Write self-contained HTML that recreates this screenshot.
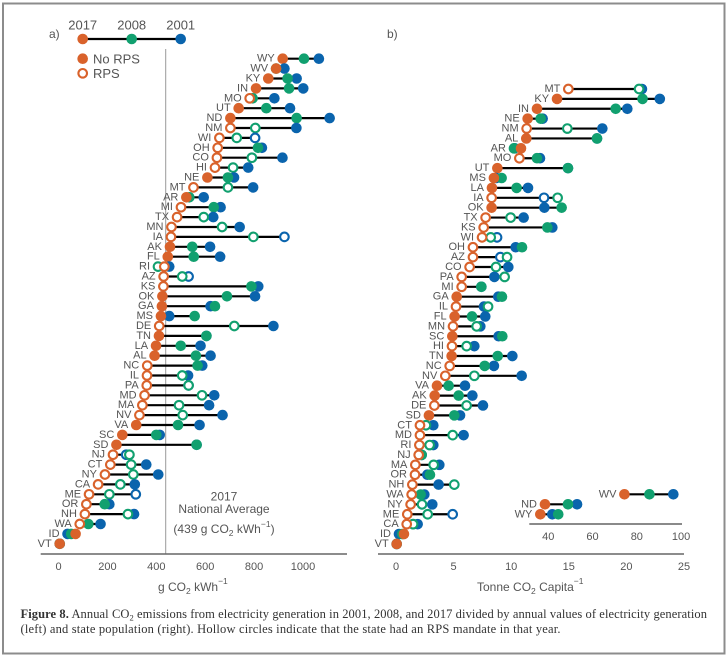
<!DOCTYPE html>
<html lang="en">
<head>
<meta charset="utf-8">
<title>Annual CO2 emissions dumbbell charts</title>
<style>
html,body{margin:0;padding:0;background:#fff;width:728px;height:656px;overflow:hidden}
svg{display:block;font-family:"Liberation Sans",sans-serif}
text{fill:#555}
.cap{font-family:"Liberation Serif",serif;font-size:12.5px;fill:#333}
</style>
</head>
<body>
<svg id="chart" width="728" height="656" viewBox="0 0 728 656" xmlns="http://www.w3.org/2000/svg">
<rect x="3" y="3.5" width="721.5" height="650" fill="#fff" stroke="#8c8c8c" stroke-width="2"/>
<text x="49" y="38" font-size="12">a)</text>
<text x="387" y="38" font-size="12">b)</text>
<g>
<text x="82.7" y="29.5" font-size="13" text-anchor="middle">2017</text>
<text x="131.7" y="29.5" font-size="13" text-anchor="middle">2008</text>
<text x="180.7" y="29.5" font-size="13" text-anchor="middle">2001</text>
<line x1="82.7" y1="39" x2="180.7" y2="39" stroke="#000" stroke-width="2.2"/>
<circle cx="82.7" cy="39" r="5.3" fill="#d9622b"/>
<circle cx="131.7" cy="39" r="5.3" fill="#11a06f"/>
<circle cx="180.7" cy="39" r="5.3" fill="#0a64ad"/>
</g>
<g>
<circle cx="82.7" cy="58.7" r="5.3" fill="#d9622b"/>
<text x="93" y="63.5" font-size="13">No RPS</text>
<circle cx="82.7" cy="73.3" r="4.3" fill="#fff" stroke="#d9622b" stroke-width="2.1"/>
<text x="93" y="78" font-size="13">RPS</text>
</g>
<line x1="165.7" y1="49" x2="165.7" y2="554" stroke="#999" stroke-width="1"/>
<g id="panelA"></g>
<g id="panelB"></g>
<g id="inset"></g>
<line x1="40.7" y1="554" x2="347" y2="554" stroke="#666" stroke-width="1.5"/>
<line x1="378" y1="554" x2="684" y2="554" stroke="#666" stroke-width="1.5"/>
<line x1="529.3" y1="524" x2="682" y2="524" stroke="#444" stroke-width="1.2"/>
<g id="ticks"></g>
<g text-anchor="middle" font-size="12">
<text x="224" y="500.5">2017</text>
<text x="224" y="513">National Average</text>
<text x="224" y="533">(439 g CO<tspan font-size="8.5" dy="3">2</tspan><tspan dy="-3"> kWh</tspan><tspan font-size="8.5" dy="-6">−1</tspan><tspan dy="6">)</tspan></text>
</g>
<text x="158" y="591" font-size="12">g CO<tspan font-size="8.5" dy="3">2</tspan><tspan dy="-3"> kWh</tspan><tspan font-size="8.5" dy="-7">−1</tspan></text>
<text x="477" y="591" font-size="12">Tonne CO<tspan font-size="8.5" dy="3">2</tspan><tspan dy="-3"> Capita</tspan><tspan font-size="8.5" dy="-7">−1</tspan></text>
<g>
<text class="cap" x="20.5" y="618" textLength="686.5" lengthAdjust="spacing"><tspan font-weight="bold">Figure 8.</tspan> Annual CO<tspan font-size="8.5" dy="2.5">2</tspan><tspan dy="-2.5"> emissions from electricity generation in 2001, 2008, and 2017 divided by annual values of electricity generation</tspan></text>
<text class="cap" x="20.5" y="633" textLength="540" lengthAdjust="spacing">(left) and state population (right). Hollow circles indicate that the state had an RPS mandate in that year.</text>
</g>
</svg>
<script>
// Panel a: g CO2 per kWh
const statesA = ["WY","WV","KY","IN","MO","UT","ND","NM","WI","OH","CO","HI","NE","MT","AR","MI","TX","MN","IA","AK","FL","RI","AZ","KS","OK","GA","MS","DE","TN","LA","AL","NC","IL","PA","MD","MA","NV","VA","SC","SD","NJ","CT","NY","CA","ME","OR","NH","WA","ID","VT"];
const a2017 = [917,890,858,808,782,737,703,703,658,651,648,640,609,552,523,501,485,462,460,456,447,433,430,429,425,423,419,412,411,399,393,363,362,361,352,343,331,318,261,237,223,212,190,162,125,114,108,87,70,5];
const a2008 = [1004,890,937,943,794,850,974,805,729,816,791,714,693,693,535,635,594,669,797,547,553,407,506,789,689,640,557,719,605,500,562,569,506,532,587,493,508,489,400,565,290,297,306,253,208,189,284,122,52,5];
const a2001 = [1065,924,974,1001,883,947,1109,973,804,832,916,776,718,796,594,663,633,741,924,620,661,453,532,817,804,622,453,879,605,581,622,588,530,532,637,616,671,577,414,565,277,359,408,312,316,208,309,172,37,5];
const aRps2017 = [0,0,0,0,1,0,0,1,1,1,1,1,0,1,0,1,1,1,1,0,0,1,1,1,0,0,0,1,0,0,0,1,1,1,1,1,1,0,0,0,1,1,1,1,1,1,1,1,0,0];
const aRps2008 = [0,0,0,0,0,0,0,1,1,0,1,1,0,1,0,0,1,1,1,0,0,1,1,0,0,0,0,1,0,0,0,0,1,1,1,1,1,0,0,0,1,1,1,1,1,0,1,0,0,0];
const aRps2001 = [0,0,0,0,0,0,0,0,1,0,0,0,0,0,0,0,0,0,1,0,0,0,1,0,0,0,0,0,0,0,0,0,0,0,0,0,0,0,0,0,1,0,0,0,1,0,0,0,0,0];
const aTicks = [0,200,400,600,800,1000];

// Panel b: tonne CO2 per capita
const statesB = ["MT","KY","IN","NE","NM","AL","AR","MO","UT","MS","LA","IA","OK","TX","KS","WI","OH","AZ","CO","PA","MI","GA","IL","FL","MN","SC","HI","TN","NC","NV","VA","AK","DE","SD","CT","MD","RI","NJ","MA","OR","NH","WA","NY","ME","CA","ID","VT"];
const b2017 = [14.96,13.98,12.24,11.43,11.34,11.31,10.85,10.71,8.8,8.5,8.33,8.3,8.3,7.78,7.61,7.47,6.68,6.68,6.39,5.7,5.7,5.27,5.21,5.09,4.95,4.89,4.86,4.83,4.66,4.28,3.56,3.36,3.33,2.86,2.08,2.08,2.03,1.97,1.68,1.65,1.42,1.36,1.27,0.98,0.93,0.69,0.06];
const b2008 = [21.1,21.4,19.07,12.56,14.87,17.45,10.24,12.24,14.93,9.17,10.47,14.03,14.38,9.95,13.14,8.22,10.94,9.64,8.68,9.43,7.41,9.2,7.99,6.6,7,9.23,6.13,8.83,7.7,6.8,4.57,5.44,6.13,5.06,2.6,4.92,2.92,2.23,3.27,2.95,5.06,2.14,2.26,2.75,1.48,0.55,0.06];
const b2001 = [21.35,22.9,20.08,12.73,17.91,17.45,10.3,12.5,14.93,8.7,11.46,12.85,12.88,11.08,13.57,8.77,10.39,9.06,9.75,8.54,7.41,8.88,7.64,7.75,7.32,8.91,6.8,10.1,8.5,10.91,5.99,6.63,7.55,5.56,3.24,5.87,3.24,2.23,3.76,2.72,3.7,2.46,3.15,4.92,1.88,0.26,0.06];
const bRps2017 = [1,0,0,0,1,0,0,1,0,0,0,1,0,1,1,1,1,1,1,1,1,0,1,0,1,0,1,0,1,1,0,0,1,0,1,1,1,1,1,1,1,1,1,1,1,0,0];
const bRps2008 = [1,0,0,0,1,0,0,0,0,0,0,1,0,1,0,1,0,1,1,1,0,0,1,0,1,0,1,0,0,1,0,0,1,0,1,1,1,0,1,0,1,0,1,1,1,0,0];
const bRps2001 = [0,0,0,0,0,0,0,0,0,0,0,1,0,0,0,1,0,1,0,0,0,0,0,0,0,0,0,0,0,0,0,0,0,0,0,0,0,0,0,0,0,0,0,1,0,0,0];
const bTicks = [0,5,10,15,20,25];

// Inset: high per-capita states
const insetStates = ["WV","ND","WY"];
const inset2017 = [74.4,38.5,36.4];
const inset2008 = [85.7,48.9,44.5];
const inset2001 = [96.5,53,41.8];
const insetTicks = [40,60,80,100];

const NS = "http://www.w3.org/2000/svg";
const COL2017 = "#d9622b", COL2008 = "#11a06f", COL2001 = "#0a64ad";

const xA = v => 58.5 + v * 0.2445;
const yA = i => 58.7 + i * 9.9;
const xB = v => 396 + v * 11.52;
const yB = i => 89 + i * 9.89;
const xI = v => 548.3 + (v - 40) * 2.213;
const yI = i => 494.3 + i * 10;

function mk(tag, parent) {
  const el = document.createElementNS(NS, tag);
  parent.appendChild(el);
  return el;
}

function dot(parent, cx, cy, color, hollow, name) {
  const c = mk("circle", parent);
  
  
  c.setAttribute("cx", cx);
  c.setAttribute("cy", cy);
  if (hollow) {
    c.setAttribute("r", 4.3);
    c.setAttribute("fill", "#fff");
    c.setAttribute("stroke", color);
    c.setAttribute("stroke-width", 2.1);
  } else {
    c.setAttribute("r", 5.3);
    c.setAttribute("fill", color);
  }
}

function drawRows(parent, states, v17, v08, v01, r17, r08, r01, xf, yf) {
  states.forEach((s, i) => {
    const y = yf(i);
    const x17 = xf(v17[i]), x08 = xf(v08[i]), x01 = xf(v01[i]);
    const lo = Math.min(x17, x08, x01), hi = Math.max(x17, x08, x01);
    const key = s.toLowerCase();
    const ln = mk("line", parent);
    
    
    ln.setAttribute("x1", lo);
    ln.setAttribute("x2", hi);
    ln.setAttribute("y1", y);
    ln.setAttribute("y2", y);
    ln.setAttribute("stroke", "#000");
    ln.setAttribute("stroke-width", 2.2);
    dot(parent, x01, y, COL2001, r01 && r01[i], 'point-2001-' + key);
    dot(parent, x08, y, COL2008, r08 && r08[i], 'point-2008-' + key);
    dot(parent, x17, y, COL2017, r17 && r17[i], 'point-2017-' + key);
    const t = mk("text", parent);
    
    
    t.setAttribute("x", lo - 8);
    t.setAttribute("y", y + 3);
    t.setAttribute("font-size", 11);
    t.setAttribute("text-anchor", "end");
    t.textContent = s;
  });
}

function drawTicks(parent, ticks, xf, y) {
  ticks.forEach(v => {
    const t = mk("text", parent);
    
    
    t.setAttribute("x", xf(v));
    t.setAttribute("y", y);
    t.setAttribute("font-size", 11);
    t.setAttribute("text-anchor", "middle");
    t.textContent = v;
  });
}

drawRows(document.getElementById("panelA"), statesA, a2017, a2008, a2001, aRps2017, aRps2008, aRps2001, xA, yA);
drawRows(document.getElementById("panelB"), statesB, b2017, b2008, b2001, bRps2017, bRps2008, bRps2001, xB, yB);
drawRows(document.getElementById("inset"), insetStates, inset2017, inset2008, inset2001, null, null, null, xI, yI);
const tickGroup = document.getElementById("ticks");
drawTicks(tickGroup, aTicks, xA, 570);
drawTicks(tickGroup, bTicks, xB, 570);
drawTicks(tickGroup, insetTicks, xI, 540);
</script>
</body>
</html>
